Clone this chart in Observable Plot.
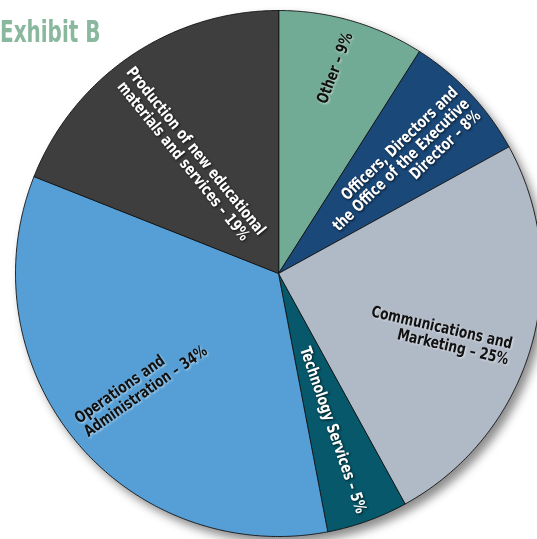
<!DOCTYPE html>
<html><head><meta charset="utf-8">
<script src="https://cdn.jsdelivr.net/npm/d3@7"></script>
<script src="https://cdn.jsdelivr.net/npm/@observablehq/plot@0.6"></script>
<style>
body{margin:0;background:#fff;overflow:hidden;}
#wrap{position:relative;width:537px;height:539px;overflow:hidden;}
#title{position:absolute;top:17px;left:0px;transform:scaleX(0.74);transform-origin:0 0;font-family:"Liberation Sans Narrow","DejaVu Sans Condensed",sans-serif;font-weight:bold;font-size:30px;line-height:1;color:#8ab89f;white-space:nowrap;z-index:2;}
svg{display:block;}
</style></head><body>
<div id="wrap"><div id="title">Exhibit B</div></div>
<script>
const categories = ["Other","Officers, Directors and the Office of the Executive Director","Communications and Marketing","Technology Services","Operations and Administration","Production of new educational materials and services"];
const shares = [9, 8, 25, 5, 34, 19];
const colors = ["#72ab95", "#1a4879", "#b0b9c6", "#06586a", "#569fd6", "#3e3e3e"];
const labels = ["Other – 9%", "Officers, Directors and\nthe Office of the Executive\nDirector – 8%", "Communications and\nMarketing – 25%", "Technology Services – 5%", "Operations and\nAdministration – 34%", "Production of new educational\nmaterials and services – 19%"];
const labelColors = ["#111111", "#ffffff", "#111111", "#ffffff", "#111111", "#ffffff"];
// label layout: radius fraction, angle tweak (deg), rotation (deg), anchor
const labelR = [0.81, 0.97, 0.93, 0.63, 0.95, 0.56];
const labelDA = [-0.9, 0.7, 2.4, 0.5, 1.9, -2.8];
const labelRot = [-69, -44, 13, 71, -35, 51];
const labelAnchor = ["middle", "end", "end", "middle", "start", "middle"];

const cx = 278, cy = 273, R = 263;
const total = d3.sum(shares);
// slice polygons in unit coordinates (angle measured clockwise from 12 o'clock)
const poly = [];
const mids = [];
let acc = 0;
categories.forEach((c, i) => {
  const a0 = acc / total * 2 * Math.PI;
  acc += shares[i];
  const a1 = acc / total * 2 * Math.PI;
  mids.push((a0 + a1) / 2);
  poly.push({cat: c, x: 0, y: 0});
  const n = Math.max(2, Math.ceil((a1 - a0) / (Math.PI / 360)));
  for (let k = 0; k <= n; k++) {
    const a = a0 + (a1 - a0) * k / n;
    poly.push({cat: c, x: Math.sin(a), y: Math.cos(a)});
  }
});

const font = '"Liberation Sans Narrow","DejaVu Sans Condensed",sans-serif';
const textMarks = categories.map((c, i) => {
  const a = mids[i] + labelDA[i] * Math.PI / 180;
  const d = {x: labelR[i] * Math.sin(a), y: labelR[i] * Math.cos(a), text: labels[i]};
  return Plot.text([d], {
    x: "x", y: "y", text: "text",
    rotate: labelRot[i], textAnchor: labelAnchor[i], lineAnchor: "middle",
    fill: labelColors[i], fontSize: 16, fontWeight: "bold", fontFamily: font,
    lineHeight: 1.02
  });
});

const chart = Plot.plot({
  width: 537, height: 539, margin: 0,
  style: {background: "transparent", overflow: "visible"},
  x: {domain: [-1, 1], range: [cx - R, cx + R], axis: null},
  y: {domain: [-1, 1], range: [cy + R, cy - R], axis: null},
  color: {domain: categories, range: colors},
  marks: [
    Plot.line(poly, {x: "x", y: "y", z: "cat", fill: "cat", stroke: "#111", strokeWidth: 0.9, curve: "linear-closed"}),
    ...textMarks
  ]
});
document.getElementById("wrap").appendChild(chart);
const svg = d3.select(chart);
svg.select("g[aria-label='line']").style("filter", "drop-shadow(5px 6px 5px rgba(0,0,0,0.45))");
svg.selectAll("g[aria-label='text']").each(function(_, i) {
  const g = d3.select(this);
  g.style("filter", labelColors[i] === "#ffffff"
    ? "drop-shadow(1px 1px 1px rgba(0,0,0,0.7))"
    : "drop-shadow(1px 1px 1px rgba(255,255,255,0.6))");
  // narrow the glyphs horizontally (condensed look)
  g.selectAll("text").each(function() {
    const t = d3.select(this);
    const tr = t.attr("transform") || "";
    t.attr("transform", tr + " scale(0.85,1)");
  });
});
</script>
</body></html>
